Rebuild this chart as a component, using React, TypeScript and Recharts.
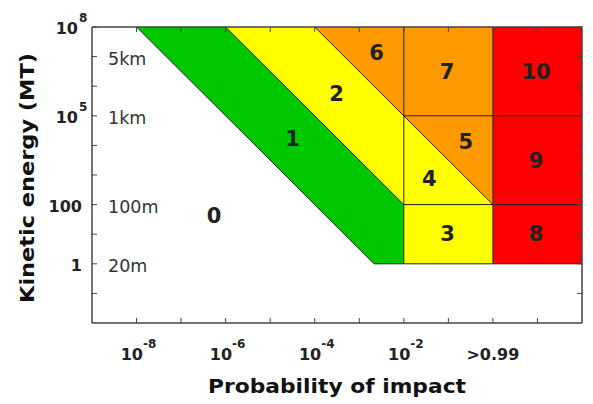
import React from "react";
import { ComposedChart, XAxis, YAxis, Area, Scatter, ReferenceLine, Label } from "recharts";

// x = log10(probability), y = log10(kinetic energy in MT)
const probLog = [-8, -6, -4, -2.667, -2, 0, 2];
const green1 = [[8, 8], [5, 8], [2, 5], [0, 3], [0, 2], null, null];
const yellow2 = [null, [8, 8], [5, 8], [3, 6], [2, 5], null, null];
const orange6 = [null, null, [8, 8], [6, 8], [5, 8], null, null];
const orange57 = [null, null, null, null, [5, 8], [2, 8], null];
const yellow34 = [null, null, null, null, [0, 5], [0, 2], null];
const red8910 = [null, null, null, null, null, [0, 8], [0, 8]];

const edges = [
  [[-8, 8], [-2.667, 0]],
  [[-6, 8], [-2, 2]],
  [[-4, 8], [0, 2]],
  [[-2.667, 0], [2, 0]],
  [[-2, 0], [-2, 8]],
  [[0, 0], [0, 8]],
  [[-2, 2], [2, 2]],
  [[-2, 5], [2, 5]],
];

const regionNames = ["0", "1", "2", "3", "4", "5", "6", "7", "8", "9", "10"];
const regionX = [-6.26, -4.5, -3.51, -1.02, -1.43, -0.61, -2.61, -1.03, 0.97, 0.97, 0.97];
const regionY = [1.6, 4.23, 5.72, 1.0, 2.85, 4.11, 7.12, 6.48, 1.0, 3.47, 6.48];

const xTicks = [-8, -7, -6, -5, -4, -3, -2, -1, 0, 1];
const yTicks = [-1, 0, 1, 2, 3, 4, 5, 6, 7, 8];
const probTickVals = [-8, -6, -4, -2, 0];
const probTickBase = ["10", "10", "10", "10", ">0.99"];
const probTickExp = ["-8", "-6", "-4", "-2", ""];
const energyTickVals = [8, 5, 2, 0];
const energyTickBase = ["10", "10", "100", "1"];
const energyTickExp = ["8", "5", "", ""];
const sizeTickVals = [7, 5, 2, 0];
const sizeTickLabels = ["5km", "1km", "100m", "20m"];

const X_MIN = -9;
const X_MAX = 2;
const Y_MIN = -2;
const Y_MAX = 8;

// chart box (the frame's top and right sides follow from it)
const CHART_W = 593;
const CHART_H = 404;
const MARGIN = { top: 27, right: 11, bottom: 0, left: 12 };
const X_AXIS_H = 81;
const Y_AXIS_W = 80;
const PLOT_TOP = MARGIN.top;
const PLOT_RIGHT = CHART_W - MARGIN.right;
const PLOT_BOTTOM = CHART_H - MARGIN.bottom - X_AXIS_H;

const rows = probLog.map((x, i) => ({
  x,
  g1: green1[i],
  y2: yellow2[i],
  o6: orange6[i],
  o57: orange57[i],
  y34: yellow34[i],
  r: red8910[i],
}));
const labels = regionNames.map((t, i) => ({ x: regionX[i], y: regionY[i], t }));

const FONT = "DejaVu Sans";
const FRAME = "#444";
const GREEN = "#00c800";
const YELLOW = "#ffff00";
const ORANGE = "#ff9900";
const RED = "#ff0000";

const BottomTick = (props: any) => {
  const { x, y, payload } = props;
  const i = probTickVals.indexOf(payload.value);
  return (
    <g>
      <line x1={x} y1={y} x2={x} y2={y - 5} stroke={FRAME} strokeWidth={1} />
      {/* matching inward tick on the top side */}
      <line x1={x} y1={PLOT_TOP} x2={x} y2={PLOT_TOP + 5} stroke={FRAME} strokeWidth={1} />
      {i >= 0 && (
        <text
          x={probTickExp[i] ? x + 2 : x}
          y={y + 37}
          textAnchor="middle"
          fontFamily={FONT}
          fontWeight="bold"
          fontSize={16}
          fill="#222"
        >
          {probTickBase[i]}
          {probTickExp[i] && (
            <tspan dy={-12} fontSize={12}>
              {probTickExp[i]}
            </tspan>
          )}
        </text>
      )}
    </g>
  );
};

const LeftTick = (props: any) => {
  const { x, y, payload } = props;
  const i = energyTickVals.indexOf(payload.value);
  const j = sizeTickVals.indexOf(payload.value);
  const isTop = payload.value === Y_MAX;
  return (
    <g>
      <line x1={x} y1={y} x2={x + 5} y2={y} stroke={FRAME} strokeWidth={1} />
      {/* matching inward tick on the right side */}
      <line x1={PLOT_RIGHT} y1={y} x2={PLOT_RIGHT - 5} y2={y} stroke={FRAME} strokeWidth={1} />
      {isTop && (
        <path
          d={`M${x},${y}H${PLOT_RIGHT}V${PLOT_BOTTOM}`}
          fill="none"
          stroke={FRAME}
          strokeWidth={1.5}
        />
      )}
      {i >= 0 && (
        <g fontFamily={FONT} fontWeight="bold" fill="#222">
          <text x={energyTickExp[i] ? x - 14 : x - 10} y={y + 7} textAnchor="end" fontSize={16}>
            {energyTickBase[i]}
          </text>
          {energyTickExp[i] && (
            <text x={x - 13} y={y - 5} textAnchor="start" fontSize={12}>
              {energyTickExp[i]}
            </text>
          )}
        </g>
      )}
      {j >= 0 && (
        <text x={x + 16} y={y + 8} fontFamily={FONT} fontSize={17.5} fill="#333">
          {sizeTickLabels[j]}
        </text>
      )}
    </g>
  );
};

const RegionLabel = (props: any) => {
  const { cx, cy, payload } = props;
  return (
    <text
      x={cx}
      y={cy}
      textAnchor="middle"
      dominantBaseline="central"
      fontFamily={FONT}
      fontWeight="bold"
      fontSize={21}
      fill="#222"
    >
      {payload.t}
    </text>
  );
};

const XTitle = (props: any) => {
  const { viewBox } = props;
  return (
    <text
      x={viewBox.x + viewBox.width / 2}
      y={viewBox.y + 70}
      textAnchor="middle"
      textLength={258}
      lengthAdjust="spacingAndGlyphs"
      fontFamily={FONT}
      fontWeight="bold"
      fontSize={20}
      fill="#111"
    >
      Probability of impact
    </text>
  );
};

const YTitle = (props: any) => {
  const { viewBox } = props;
  const cx = viewBox.x + 15;
  const cy = viewBox.y + viewBox.height / 2 + 3;
  return (
    <text
      x={cx}
      y={cy}
      transform={`rotate(-90 ${cx} ${cy})`}
      textAnchor="middle"
      dominantBaseline="central"
      textLength={250}
      lengthAdjust="spacingAndGlyphs"
      fontFamily={FONT}
      fontWeight="bold"
      fontSize={20}
      fill="#111"
    >
      Kinetic energy (MT)
    </text>
  );
};

export default function App() {
  return (
    <div style={{ position: "absolute", left: 0, top: 0, background: "#fff" }}>
      <ComposedChart width={CHART_W} height={CHART_H} data={rows} margin={MARGIN}>
        <Area dataKey="g1" type="linear" fill={GREEN} fillOpacity={1} stroke="none" dot={false} activeDot={false} isAnimationActive={false} />
        <Area dataKey="y2" type="linear" fill={YELLOW} fillOpacity={1} stroke="none" dot={false} activeDot={false} isAnimationActive={false} />
        <Area dataKey="o6" type="linear" fill={ORANGE} fillOpacity={1} stroke="none" dot={false} activeDot={false} isAnimationActive={false} />
        <Area dataKey="o57" type="linear" fill={ORANGE} fillOpacity={1} stroke="none" dot={false} activeDot={false} isAnimationActive={false} />
        <Area dataKey="y34" type="linear" fill={YELLOW} fillOpacity={1} stroke="none" dot={false} activeDot={false} isAnimationActive={false} />
        <Area dataKey="r" type="linear" fill={RED} fillOpacity={1} stroke="none" dot={false} activeDot={false} isAnimationActive={false} />
        {edges.map((e, i) => (
          <ReferenceLine
            key={`e${i}`}
            segment={[{ x: e[0][0], y: e[0][1] }, { x: e[1][0], y: e[1][1] }]}
            stroke="#222"
            strokeWidth={1}
            ifOverflow="visible"
          />
        ))}
        <XAxis
          dataKey="x"
          type="number"
          domain={[X_MIN, X_MAX]}
          allowDataOverflow
          ticks={xTicks}
          interval={0}
          height={X_AXIS_H}
          tickSize={0}
          tickMargin={0}
          tickLine={false}
          tick={<BottomTick />}
          axisLine={{ stroke: FRAME, strokeWidth: 1.5 }}
        >
          <Label content={<XTitle />} />
        </XAxis>
        <YAxis
          type="number"
          domain={[Y_MIN, Y_MAX]}
          allowDataOverflow
          ticks={yTicks}
          interval={0}
          width={Y_AXIS_W}
          tickSize={0}
          tickMargin={0}
          tickLine={false}
          tick={<LeftTick />}
          axisLine={{ stroke: FRAME, strokeWidth: 1.5 }}
        >
          <Label content={<YTitle />} />
        </YAxis>
        <Scatter data={labels} dataKey="y" shape={<RegionLabel />} isAnimationActive={false} />
      </ComposedChart>
    </div>
  );
}
